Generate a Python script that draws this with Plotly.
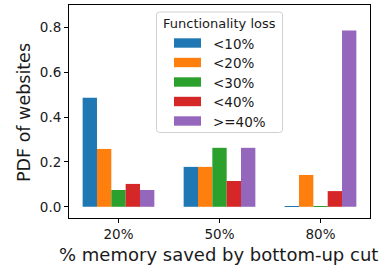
import plotly.graph_objects as go

categories = ["20%", "50%", "80%"]
series_names = ["<10%", "<20%", "<30%", "<40%", ">=40%"]
loss_lt10 = [0.486, 0.178, 0.003]
loss_lt20 = [0.258, 0.178, 0.142]
loss_lt30 = [0.075, 0.263, 0.003]
loss_lt40 = [0.102, 0.115, 0.070]
loss_ge40 = [0.075, 0.263, 0.786]
series_values = [loss_lt10, loss_lt20, loss_lt30, loss_lt40, loss_ge40]
colors = ["#1f77b4", "#ff7f0e", "#2ca02c", "#d62728", "#9467bd"]
y_ticks = [0.0, 0.2, 0.4, 0.6, 0.8]
legend_title = "Functionality loss"
x_title = "% memory saved by bottom-up cut"
y_title = "PDF of websites"

FONT = "DejaVu Sans"
TXT = "#1a1a1a"
W, H = 384, 268
L, R, T, B = 69, 14, 5, 50
PW, PH = W - L - R, H - T - B


def px(xp):
    return (xp - L) / PW


def py(yp):
    return (H - B - yp) / PH


fig = go.Figure()
for name, vals, c in zip(series_names, series_values, colors):
    fig.add_trace(go.Bar(x=categories, y=vals, name=name, marker_color=c,
                         marker_line_width=0, showlegend=False))

shapes = []
annotations = []

# legend box (rounded)
x0, x1, y0, y1, r = px(156.5), px(282.5), py(12), py(132.5), 3
rx, ry = r / PW, r / PH
path = (f"M{x0+rx},{y0} L{x1-rx},{y0} Q{x1},{y0} {x1},{y0-ry} "
        f"L{x1},{y1+ry} Q{x1},{y1} {x1-rx},{y1} L{x0+rx},{y1} "
        f"Q{x0},{y1} {x0},{y1+ry} L{x0},{y0-ry} Q{x0},{y0} {x0+rx},{y0} Z")
shapes.append(dict(type="path", xref="paper", yref="paper", path=path,
                   fillcolor="rgba(255,255,255,0.8)",
                   line=dict(color="#d0d0d0", width=1), layer="above"))
annotations.append(dict(text=legend_title, xref="paper", yref="paper",
                        x=px(219.5), y=py(23.5), xanchor="center", yanchor="middle",
                        showarrow=False, font=dict(family=FONT, size=13, color=TXT)))
row_y = [43, 62.5, 82, 101.5, 121]
for name, c, yc in zip(series_names, colors, row_y):
    shapes.append(dict(type="rect", xref="paper", yref="paper",
                       x0=px(174), x1=px(201), y0=py(yc - 4.7), y1=py(yc + 4.7),
                       fillcolor=c, line=dict(width=0), layer="above"))
    annotations.append(dict(text=name, xref="paper", yref="paper",
                            x=px(211), y=py(yc + 0.5), xanchor="left", yanchor="middle",
                            showarrow=False, font=dict(family=FONT, size=13.5, color=TXT)))

# axis titles
annotations.append(dict(text=x_title, xref="paper", yref="paper",
                        x=px(218), y=py(254.5), xanchor="center", yanchor="middle",
                        showarrow=False, font=dict(family=FONT, size=18, color=TXT)))
annotations.append(dict(text=y_title, xref="paper", yref="paper",
                        x=px(24), y=py(113), xanchor="center", yanchor="middle",
                        textangle=-90, showarrow=False,
                        font=dict(family=FONT, size=17.5, color=TXT)))

fig.update_layout(
    width=W, height=H,
    margin=dict(l=L, r=R, t=T, b=B, autoexpand=False),
    paper_bgcolor="white", plot_bgcolor="white",
    barmode="group", bargap=0.29, bargroupgap=0.0,
    font=dict(family=FONT, size=13, color=TXT),
    showlegend=False,
    shapes=shapes, annotations=annotations,
)
fig.update_xaxes(
    type="category", range=[-0.49, 2.49], automargin=False,
    showline=True, linecolor="black", linewidth=1, mirror=True,
    ticks="outside", ticklen=4, tickcolor="black",
    showgrid=False, zeroline=False,
    tickfont=dict(family=FONT, size=13.5, color=TXT),
)
fig.update_yaxes(
    range=[-0.05, 0.9], tickvals=y_ticks, ticktext=[f"{v:.1f}" for v in y_ticks],
    automargin=False,
    showline=True, linecolor="black", linewidth=1, mirror=True,
    ticks="outside", ticklen=4, tickcolor="black",
    showgrid=False, zeroline=False,
    tickfont=dict(family=FONT, size=13.5, color=TXT),
)

fig.write_html("out.html",
               config={"displayModeBar": False},
               post_script="document.body.style.margin='0';"
                           "document.body.style.overflow='hidden';")
